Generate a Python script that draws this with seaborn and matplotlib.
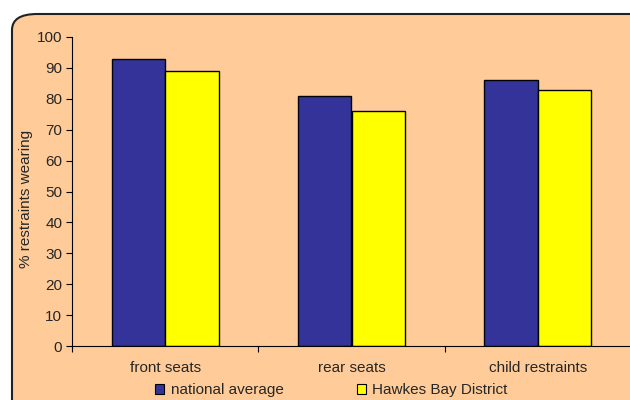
import pandas as pd
import matplotlib
matplotlib.use('Agg')
import matplotlib.pyplot as plt
from matplotlib.patches import FancyBboxPatch, Patch
import seaborn as sns

categories = ['front seats', 'rear seats', 'child restraints']
national_average = [93, 81, 86]
hawkes_bay = [89, 76, 83]
series_names = ['national average', 'Hawkes Bay District']
bar_colors = ['#333399', '#FFFF00']
bg_color = '#FFCC99'

df = pd.DataFrame({
    'category': categories * 2,
    'value': national_average + hawkes_bay,
    'series': [series_names[0]] * 3 + [series_names[1]] * 3,
})

sns.set_style('white')
plt.rcParams['font.family'] = ['Liberation Sans', 'DejaVu Sans']
fs = 11

fig = plt.figure(figsize=(6.3, 4), dpi=100)
fig.patch.set_facecolor('white')

# rounded peach frame, runs off right and bottom edges
frame = FancyBboxPatch((12 / 630, -0.2), 1.2, 1.2 - 14 / 400,
                       boxstyle='round,pad=0,rounding_size=0.04',
                       transform=fig.transFigure, facecolor=bg_color,
                       edgecolor='#222222', linewidth=1.5, zorder=-5)
fig.patches.append(frame)

ax = fig.add_axes([72 / 630, 1 - 346 / 400, 559 / 630, (346 - 37) / 400])
ax.set_zorder(2)
ax.set_facecolor('none')

sns.barplot(data=df, x='category', y='value', hue='series',
            palette=bar_colors, width=0.575, gap=0, edgecolor='black',
            linewidth=1, saturation=1, ax=ax, legend=False)

ax.set_xlim(-0.5, 2.5)
ax.set_ylim(0, 100)
ax.set_yticks(range(0, 101, 10))
ax.tick_params(axis='y', labelsize=fs, length=4, width=0.8, color='black', left=True, pad=3)
ax.tick_params(axis='x', labelsize=fs, length=0, pad=11)
ax.set_xticks([-0.5, 0.5, 1.5, 2.5], minor=True)
ax.tick_params(axis='x', which='minor', length=4, width=0.8, color='black', bottom=True)
ax.set_xlabel('')
ax.set_ylabel('% restraints wearing', fontsize=fs)
ax.yaxis.set_label_coords(-0.07, 0.476)

for side in ['top', 'right']:
    ax.spines[side].set_visible(False)
for side in ['left', 'bottom']:
    ax.spines[side].set_color('black')
    ax.spines[side].set_linewidth(0.8)

handles = [Patch(facecolor=c, edgecolor='black', linewidth=0.8) for c in bar_colors]
fig.legend(handles, series_names, loc='center', bbox_to_anchor=(0.526, 0.024),
           ncol=2, frameon=False, fontsize=fs, handlelength=0.6, handleheight=0.7,
           handletextpad=0.4, columnspacing=4.8, borderpad=0)

plt.savefig('out.png', dpi=100, facecolor=fig.get_facecolor())
